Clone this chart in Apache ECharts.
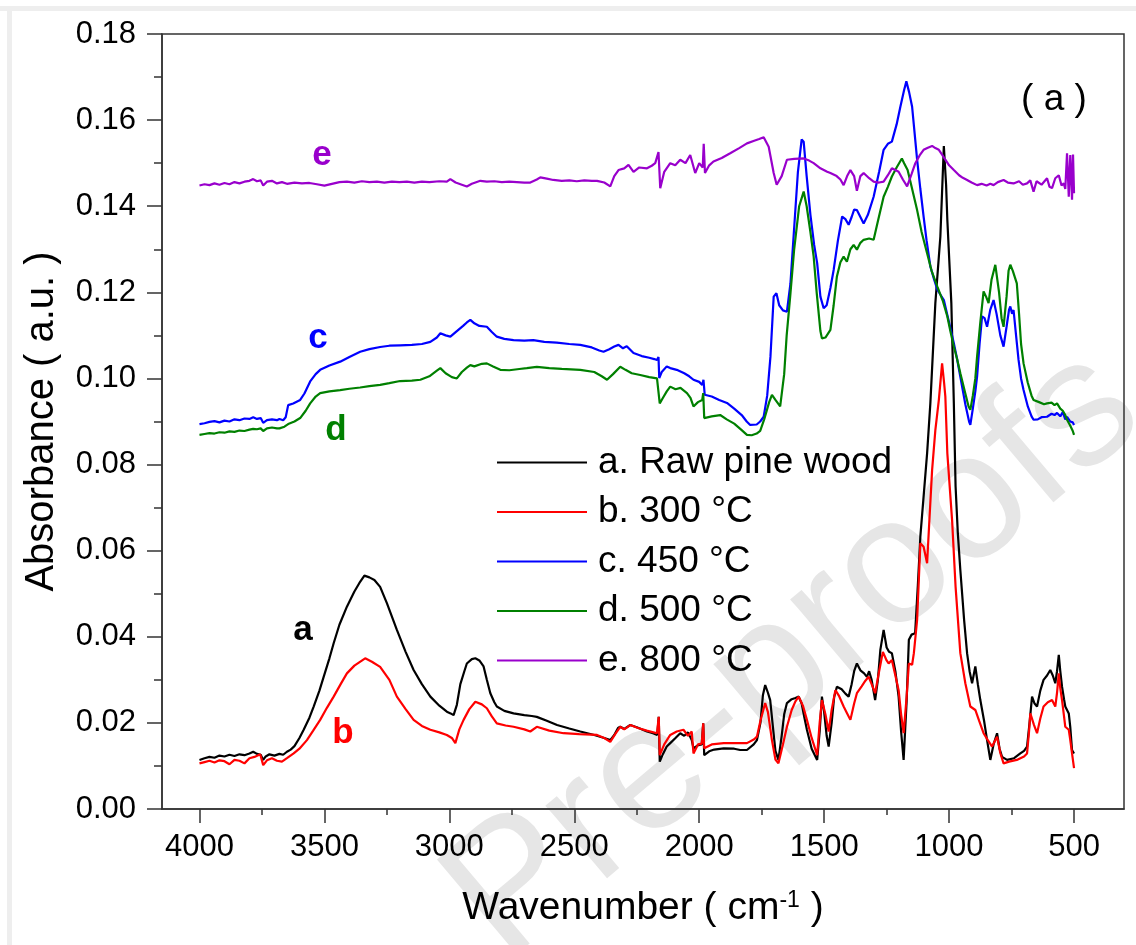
<!DOCTYPE html>
<html>
<head>
<meta charset="utf-8">
<script src="https://cdn.jsdelivr.net/npm/echarts@6/dist/echarts.min.js"></script>
<style>
html,body{margin:0;padding:0;background:#fff;}
#chart{width:1136px;height:945px;}
</style>
</head>
<body>
<div id="chart"></div>
<script>
// ---- data: [wavenumber (cm-1), absorbance (a.u.)] ----
const seriesNames = ['a. Raw pine wood', 'b. 300 °C', 'c. 450 °C', 'd. 500 °C', 'e. 800 °C'];
const seriesColors = ['#000000', '#ff0000', '#0000ff', '#008000', '#9900cc'];
const xMajorTicks = [500, 1000, 1500, 2000, 2500, 3000, 3500, 4000];
const xMinorTicks = [750, 1250, 1750, 2250, 2750, 3250, 3750];

const rawPine = [[4000,0.0114],[3980,0.0118],[3960,0.0121],[3940,0.0119],[3920,0.0124],[3900,0.0122],[3880,0.0126],[3860,0.0123],[3840,0.0127],[3820,0.0125],[3800,0.0129],[3785,0.0133],[3770,0.0128],[3755,0.0126],[3745,0.0114],[3735,0.0122],[3720,0.0127],[3700,0.0124],[3680,0.0128],[3665,0.0126],[3650,0.0133],[3635,0.0138],[3620,0.0146],[3600,0.0165],[3583,0.0184],[3560,0.0212],[3543,0.0238],[3520,0.0275],[3503,0.0307],[3480,0.0350],[3463,0.0385],[3440,0.0428],[3410,0.0470],[3380,0.0505],[3360,0.0525],[3340,0.0542],[3320,0.0538],[3300,0.0532],[3277,0.0516],[3250,0.0478],[3210,0.0416],[3175,0.0365],[3143,0.0323],[3110,0.0290],[3076,0.0261],[3040,0.0240],[3010,0.0226],[2995,0.0222],[2983,0.0218],[2970,0.0242],[2956,0.0290],[2940,0.0320],[2930,0.0338],[2910,0.0348],[2896,0.0350],[2880,0.0345],[2863,0.0331],[2850,0.0300],[2836,0.0269],[2820,0.0248],[2810,0.0238],[2780,0.0228],[2743,0.0222],[2700,0.0218],[2670,0.0216],[2650,0.0214],[2610,0.0205],[2569,0.0195],[2520,0.0187],[2476,0.0180],[2420,0.0172],[2380,0.0165],[2356,0.0160],[2340,0.0172],[2325,0.0188],[2316,0.0191],[2300,0.0186],[2276,0.0195],[2250,0.0190],[2209,0.0180],[2185,0.0176],[2168,0.0172],[2162,0.0214],[2158,0.0110],[2145,0.0128],[2130,0.0145],[2116,0.0153],[2095,0.0165],[2076,0.0176],[2060,0.0170],[2045,0.0178],[2030,0.0160],[2023,0.0141],[2005,0.0148],[1990,0.0150],[1984,0.0199],[1980,0.0125],[1960,0.0134],[1940,0.0138],[1902,0.0141],[1860,0.0140],[1836,0.0137],[1809,0.0137],[1782,0.0150],[1769,0.0160],[1755,0.0200],[1745,0.0265],[1736,0.0288],[1725,0.0270],[1716,0.0253],[1705,0.0190],[1695,0.0135],[1683,0.0114],[1670,0.0170],[1660,0.0220],[1649,0.0246],[1630,0.0255],[1615,0.0258],[1602,0.0261],[1590,0.0245],[1580,0.0215],[1569,0.0184],[1550,0.0140],[1528,0.0114],[1518,0.0180],[1509,0.0261],[1500,0.0225],[1490,0.0170],[1482,0.0145],[1470,0.0200],[1460,0.0260],[1449,0.0284],[1430,0.0278],[1415,0.0268],[1402,0.0261],[1390,0.0290],[1380,0.0320],[1369,0.0338],[1355,0.0322],[1340,0.0315],[1329,0.0307],[1320,0.0320],[1310,0.0300],[1296,0.0253],[1285,0.0300],[1275,0.0370],[1262,0.0416],[1250,0.0375],[1240,0.0365],[1229,0.0362],[1215,0.0320],[1202,0.0261],[1192,0.0180],[1182,0.0114],[1170,0.0250],[1161,0.0393],[1150,0.0405],[1136,0.0408],[1125,0.0520],[1115,0.0633],[1100,0.0740],[1088,0.0826],[1075,0.0942],[1055,0.1175],[1035,0.1329],[1021,0.1540],[1012,0.1450],[1007,0.1368],[991,0.1175],[981,0.0942],[974,0.0749],[965,0.0640],[955,0.0555],[940,0.0440],[928,0.0362],[918,0.0320],[908,0.0292],[895,0.0331],[885,0.0290],[875,0.0253],[860,0.0205],[848,0.0160],[835,0.0114],[822,0.0150],[808,0.0176],[798,0.0140],[788,0.0121],[768,0.0114],[740,0.0118],[715,0.0129],[700,0.0135],[688,0.0145],[678,0.0200],[668,0.0261],[658,0.0245],[648,0.0238],[635,0.0275],[622,0.0300],[608,0.0310],[595,0.0323],[585,0.0310],[575,0.0292],[568,0.0320],[561,0.0358],[555,0.0320],[548,0.0284],[540,0.0255],[535,0.0238],[521,0.0222],[515,0.0190],[508,0.0137],[500,0.0129]];

const char300 = [[4000,0.0106],[3980,0.0109],[3960,0.0112],[3940,0.0108],[3920,0.0113],[3900,0.0111],[3880,0.0104],[3860,0.0114],[3840,0.0112],[3820,0.0106],[3800,0.0118],[3780,0.0121],[3757,0.0127],[3745,0.0102],[3730,0.0113],[3710,0.0118],[3690,0.0112],[3670,0.0110],[3650,0.0118],[3623,0.0129],[3600,0.0140],[3570,0.0160],[3545,0.0182],[3517,0.0207],[3490,0.0235],[3463,0.0261],[3435,0.0290],[3410,0.0315],[3380,0.0333],[3337,0.0350],[3310,0.0342],[3277,0.0330],[3240,0.0300],[3210,0.0261],[3175,0.0232],[3143,0.0207],[3110,0.0193],[3076,0.0184],[3040,0.0178],[3010,0.0172],[2990,0.0165],[2976,0.0153],[2960,0.0185],[2943,0.0207],[2920,0.0232],[2896,0.0249],[2870,0.0243],[2850,0.0234],[2830,0.0215],[2810,0.0199],[2775,0.0194],[2743,0.0191],[2700,0.0185],[2676,0.0180],[2650,0.0191],[2600,0.0182],[2543,0.0176],[2480,0.0174],[2409,0.0172],[2380,0.0165],[2356,0.0156],[2335,0.0175],[2316,0.0191],[2300,0.0185],[2276,0.0195],[2245,0.0188],[2210,0.0182],[2169,0.0176],[2162,0.0214],[2158,0.0125],[2140,0.0150],[2116,0.0172],[2090,0.0180],[2063,0.0184],[2045,0.0170],[2030,0.0180],[2023,0.0129],[2005,0.0150],[1990,0.0152],[1984,0.0199],[1980,0.0141],[1950,0.0150],[1902,0.0153],[1850,0.0153],[1809,0.0153],[1780,0.0162],[1769,0.0168],[1755,0.0205],[1736,0.0246],[1725,0.0225],[1709,0.0160],[1695,0.0115],[1683,0.0106],[1665,0.0150],[1649,0.0191],[1630,0.0230],[1615,0.0250],[1602,0.0261],[1585,0.0240],[1569,0.0207],[1550,0.0165],[1528,0.0125],[1518,0.0200],[1509,0.0253],[1495,0.0220],[1482,0.0180],[1470,0.0230],[1455,0.0276],[1440,0.0262],[1422,0.0238],[1408,0.0222],[1395,0.0207],[1380,0.0245],[1369,0.0269],[1350,0.0285],[1335,0.0298],[1322,0.0307],[1310,0.0290],[1296,0.0269],[1280,0.0320],[1265,0.0365],[1250,0.0345],[1242,0.0338],[1229,0.0346],[1215,0.0310],[1202,0.0276],[1192,0.0220],[1182,0.0176],[1170,0.0260],[1161,0.0338],[1148,0.0335],[1141,0.0362],[1128,0.0439],[1115,0.0617],[1102,0.0609],[1088,0.0571],[1078,0.0680],[1068,0.0787],[1055,0.0880],[1041,0.0950],[1028,0.1035],[1020,0.0990],[1015,0.0958],[1007,0.0826],[988,0.0671],[974,0.0516],[955,0.0362],[935,0.0292],[915,0.0238],[895,0.0230],[880,0.0205],[862,0.0176],[845,0.0160],[828,0.0145],[808,0.0168],[795,0.0130],[782,0.0106],[760,0.0110],[729,0.0114],[700,0.0122],[688,0.0129],[680,0.0180],[675,0.0222],[660,0.0195],[648,0.0176],[635,0.0210],[622,0.0238],[605,0.0248],[588,0.0253],[575,0.0238],[568,0.0270],[561,0.0315],[555,0.0280],[548,0.0253],[540,0.0215],[535,0.0191],[521,0.0184],[515,0.0160],[508,0.0129],[500,0.0095]];

const char450 = [[4000,0.0894],[3980,0.0896],[3960,0.0899],[3940,0.0901],[3920,0.0898],[3900,0.0902],[3880,0.0900],[3860,0.0905],[3840,0.0903],[3820,0.0907],[3800,0.0906],[3785,0.0910],[3770,0.0906],[3755,0.0908],[3745,0.0897],[3730,0.0903],[3710,0.0905],[3690,0.0903],[3680,0.0906],[3665,0.0903],[3655,0.0910],[3645,0.0938],[3625,0.0942],[3597,0.0950],[3580,0.0965],[3557,0.0993],[3535,0.1010],[3517,0.1020],[3480,0.1030],[3437,0.1039],[3400,0.1050],[3357,0.1062],[3320,0.1068],[3277,0.1073],[3240,0.1076],[3197,0.1077],[3150,0.1078],[3110,0.1080],[3076,0.1085],[3050,0.1095],[3036,0.1105],[3015,0.1100],[2996,0.1097],[2970,0.1110],[2945,0.1122],[2930,0.1130],[2916,0.1136],[2900,0.1128],[2880,0.1122],[2850,0.1120],[2830,0.1108],[2810,0.1097],[2780,0.1092],[2743,0.1089],[2700,0.1088],[2664,0.1089],[2620,0.1085],[2570,0.1083],[2520,0.1080],[2476,0.1078],[2430,0.1072],[2400,0.1065],[2383,0.1062],[2360,0.1068],[2340,0.1074],[2323,0.1078],[2305,0.1070],[2290,0.1075],[2263,0.1059],[2230,0.1052],[2200,0.1048],[2180,0.1045],[2169,0.1043],[2163,0.1050],[2160,0.1001],[2150,0.1015],[2130,0.1028],[2116,0.1024],[2090,0.1020],[2060,0.1012],[2040,0.1005],[2023,0.0997],[2000,0.0992],[1988,0.0985],[1983,0.0997],[1978,0.0962],[1950,0.0958],[1920,0.0950],[1889,0.0943],[1860,0.0930],[1830,0.0915],[1810,0.0900],[1796,0.0892],[1789,0.0888],[1770,0.0893],[1756,0.0900],[1742,0.0911],[1728,0.0960],[1715,0.1050],[1702,0.1190],[1691,0.1198],[1680,0.1170],[1665,0.1158],[1649,0.1155],[1635,0.1220],[1620,0.1350],[1605,0.1480],[1590,0.1555],[1582,0.1550],[1570,0.1470],[1555,0.1380],[1540,0.1310],[1528,0.1268],[1515,0.1190],[1502,0.1163],[1490,0.1170],[1475,0.1210],[1462,0.1252],[1445,0.1320],[1428,0.1376],[1415,0.1370],[1402,0.1357],[1390,0.1375],[1380,0.1392],[1369,0.1391],[1355,0.1375],[1342,0.1360],[1325,0.1380],[1302,0.1422],[1280,0.1480],[1262,0.1531],[1245,0.1545],[1229,0.1550],[1210,0.1590],[1195,0.1631],[1180,0.1670],[1171,0.1690],[1160,0.1665],[1148,0.1631],[1138,0.1570],[1128,0.1508],[1115,0.1440],[1102,0.1376],[1090,0.1320],[1075,0.1260],[1060,0.1230],[1047,0.1206],[1035,0.1195],[1021,0.1182],[1000,0.1130],[981,0.1082],[968,0.1045],[955,0.1004],[935,0.0940],[920,0.0900],[915,0.0892],[905,0.0930],[895,0.0970],[888,0.1004],[878,0.1080],[868,0.1144],[858,0.1140],[848,0.1120],[835,0.1160],[822,0.1182],[810,0.1150],[795,0.1100],[782,0.1074],[770,0.1120],[760,0.1160],[755,0.1167],[748,0.1150],[742,0.1159],[732,0.1100],[722,0.1043],[712,0.1000],[702,0.0973],[685,0.0935],[670,0.0912],[662,0.0904],[645,0.0905],[630,0.0910],[608,0.0911],[590,0.0918],[578,0.0915],[568,0.0920],[555,0.0912],[545,0.0922],[535,0.0905],[528,0.0911],[515,0.0900],[505,0.0898],[500,0.0892]];

const char500 = [[4000,0.0869],[3980,0.0871],[3960,0.0873],[3940,0.0872],[3920,0.0875],[3900,0.0874],[3880,0.0877],[3860,0.0876],[3840,0.0879],[3820,0.0878],[3800,0.0881],[3785,0.0883],[3770,0.0882],[3755,0.0884],[3745,0.0878],[3730,0.0884],[3710,0.0886],[3690,0.0884],[3680,0.0884],[3660,0.0888],[3645,0.0894],[3637,0.0896],[3620,0.0900],[3597,0.0908],[3575,0.0925],[3557,0.0942],[3535,0.0958],[3517,0.0966],[3480,0.0970],[3437,0.0973],[3400,0.0976],[3357,0.0979],[3320,0.0982],[3277,0.0985],[3240,0.0989],[3197,0.0994],[3150,0.0995],[3116,0.0997],[3080,0.1005],[3050,0.1018],[3036,0.1024],[3015,0.1012],[2990,0.1003],[2970,0.1000],[2950,0.1015],[2930,0.1025],[2916,0.1031],[2900,0.1028],[2870,0.1034],[2850,0.1035],[2825,0.1028],[2796,0.1020],[2760,0.1019],[2720,0.1022],[2690,0.1024],[2650,0.1027],[2600,0.1024],[2550,0.1022],[2476,0.1020],[2420,0.1015],[2390,0.1005],[2369,0.0997],[2345,0.1010],[2316,0.1027],[2295,0.1020],[2270,0.1012],[2236,0.1008],[2200,0.1003],[2169,0.1000],[2163,0.1000],[2158,0.0942],[2145,0.0955],[2130,0.0970],[2116,0.0981],[2095,0.0975],[2075,0.0978],[2049,0.0966],[2035,0.0955],[2023,0.0935],[2005,0.0945],[1988,0.0950],[1984,0.0966],[1980,0.0908],[1950,0.0912],[1916,0.0915],[1890,0.0905],[1860,0.0895],[1830,0.0880],[1809,0.0869],[1790,0.0868],[1770,0.0872],[1756,0.0878],[1740,0.0905],[1720,0.0945],[1709,0.0962],[1695,0.0950],[1676,0.0935],[1660,0.1010],[1650,0.1100],[1636,0.1190],[1620,0.1300],[1600,0.1400],[1582,0.1434],[1570,0.1400],[1555,0.1340],[1542,0.1283],[1530,0.1200],[1515,0.1110],[1509,0.1093],[1495,0.1095],[1475,0.1113],[1462,0.1170],[1449,0.1237],[1435,0.1270],[1422,0.1283],[1409,0.1271],[1395,0.1300],[1382,0.1310],[1369,0.1299],[1355,0.1315],[1342,0.1322],[1320,0.1325],[1302,0.1322],[1285,0.1365],[1262,0.1422],[1245,0.1445],[1229,0.1469],[1210,0.1490],[1189,0.1511],[1180,0.1500],[1166,0.1484],[1150,0.1445],[1128,0.1391],[1110,0.1340],[1088,0.1291],[1070,0.1250],[1047,0.1213],[1025,0.1180],[1007,0.1144],[995,0.1110],[981,0.1074],[968,0.1045],[955,0.1012],[935,0.0965],[922,0.0935],[915,0.0927],[905,0.0960],[895,0.1000],[888,0.1051],[875,0.1130],[862,0.1202],[852,0.1190],[842,0.1175],[830,0.1230],[815,0.1264],[800,0.1200],[790,0.1140],[782,0.1120],[770,0.1190],[762,0.1250],[755,0.1264],[745,0.1250],[729,0.1221],[720,0.1150],[712,0.1080],[702,0.1035],[685,0.0990],[670,0.0960],[662,0.0950],[640,0.0945],[620,0.0940],[608,0.0942],[590,0.0944],[578,0.0938],[568,0.0942],[555,0.0930],[545,0.0925],[535,0.0915],[528,0.0904],[515,0.0890],[505,0.0878],[500,0.0869]];

const char800 = [[4000,0.1448],[3980,0.1451],[3960,0.1449],[3940,0.1453],[3920,0.1450],[3900,0.1454],[3880,0.1451],[3860,0.1456],[3840,0.1453],[3820,0.1457],[3800,0.1459],[3785,0.1463],[3770,0.1458],[3755,0.1460],[3745,0.1448],[3730,0.1457],[3710,0.1459],[3690,0.1453],[3670,0.1456],[3650,0.1452],[3620,0.1455],[3590,0.1453],[3560,0.1454],[3530,0.1451],[3500,0.1448],[3470,0.1452],[3440,0.1456],[3410,0.1457],[3380,0.1455],[3350,0.1458],[3320,0.1456],[3290,0.1457],[3260,0.1455],[3230,0.1457],[3200,0.1456],[3170,0.1457],[3140,0.1455],[3110,0.1457],[3080,0.1456],[3040,0.1458],[3010,0.1457],[2996,0.1463],[2975,0.1455],[2950,0.1450],[2930,0.1446],[2910,0.1452],[2876,0.1459],[2850,0.1457],[2820,0.1458],[2790,0.1456],[2760,0.1457],[2730,0.1456],[2700,0.1455],[2676,0.1455],[2650,0.1462],[2636,0.1467],[2610,0.1464],[2584,0.1461],[2550,0.1459],[2520,0.1460],[2490,0.1458],[2460,0.1460],[2430,0.1459],[2409,0.1459],[2380,0.1455],[2356,0.1446],[2340,0.1470],[2323,0.1484],[2300,0.1488],[2283,0.1496],[2263,0.1480],[2240,0.1490],[2209,0.1488],[2190,0.1494],[2176,0.1500],[2163,0.1526],[2156,0.1442],[2140,0.1480],[2116,0.1500],[2096,0.1495],[2076,0.1508],[2055,0.1500],[2036,0.1519],[2016,0.1477],[2000,0.1500],[1986,0.1490],[1982,0.1545],[1977,0.1477],[1960,0.1495],[1943,0.1504],[1910,0.1512],[1876,0.1523],[1840,0.1535],[1809,0.1546],[1780,0.1552],[1760,0.1556],[1742,0.1560],[1722,0.1538],[1702,0.1477],[1690,0.1450],[1683,0.1446],[1670,0.1470],[1649,0.1508],[1620,0.1510],[1582,0.1511],[1560,0.1506],[1542,0.1500],[1515,0.1488],[1488,0.1480],[1475,0.1477],[1450,0.1470],[1435,0.1462],[1422,0.1449],[1408,0.1470],[1395,0.1484],[1380,0.1470],[1369,0.1436],[1355,0.1470],[1342,0.1477],[1320,0.1465],[1302,0.1457],[1280,0.1455],[1262,0.1457],[1245,0.1472],[1229,0.1488],[1215,0.1484],[1202,0.1480],[1185,0.1462],[1168,0.1446],[1150,0.1475],[1135,0.1500],[1118,0.1518],[1102,0.1531],[1085,0.1536],[1068,0.1540],[1055,0.1535],[1041,0.1531],[1028,0.1520],[1015,0.1508],[1000,0.1495],[981,0.1484],[960,0.1472],[945,0.1466],[928,0.1461],[910,0.1455],[888,0.1449],[870,0.1452],[850,0.1448],[835,0.1452],[822,0.1449],[805,0.1456],[782,0.1461],[765,0.1455],[742,0.1453],[720,0.1458],[705,0.1450],[688,0.1453],[675,0.1460],[662,0.1434],[650,0.1458],[630,0.1450],[608,0.1465],[598,0.1445],[588,0.1442],[575,0.1465],[561,0.1472],[550,0.1448],[541,0.1453],[535,0.1440],[528,0.1523],[521,0.1422],[515,0.1519],[508,0.1415],[504,0.1520],[500,0.1430]];

const curveLetters = ['a', 'b', 'c', 'd', 'e'];

// ---- chart ----
const FONT = '"Liberation Sans", Arial, sans-serif';
const chart = echarts.init(document.getElementById('chart'), null, {renderer: 'canvas'});
const allData = [rawPine, char300, char450, char500, char800];

const letterPos = [[303, 630], [343, 733], [318, 338], [336, 430], [322, 155]];

const graphics = [
  {type: 'rect', shape: {x: 0, y: 6, width: 1136, height: 5}, style: {fill: '#eeeeee'}, silent: true, z: -10},
  {type: 'rect', shape: {x: 7, y: 6, width: 5, height: 939}, style: {fill: '#eeeeee'}, silent: true, z: -10},
  {type: 'text', x: 795, y: 655, rotation: 0.70, z: -5, silent: true,
   style: {text: 'Pre-proofs', fontFamily: FONT, fontSize: 180, fill: '#e6e6e6', align: 'center', verticalAlign: 'middle'}},
  {type: 'text', x: 1054, y: 100, z: 10,
   style: {text: '( a )', fontFamily: FONT, fontSize: 37, fill: '#000', align: 'center', verticalAlign: 'middle'}}
];
curveLetters.forEach((t, i) => {
  graphics.push({type: 'text', x: letterPos[i][0], y: letterPos[i][1], z: 10,
    style: {text: t, fontFamily: FONT, fontSize: 35, fontWeight: 'bold', fill: seriesColors[i], align: 'center', verticalAlign: 'middle'}});
});

const axisLineStyle = {color: '#333', width: 1.5};

const option = {
  backgroundColor: '#ffffff',
  animation: false,
  grid: {left: 162, right: 12, top: 34, bottom: 136, show: true, borderColor: '#333', borderWidth: 1.5, backgroundColor: 'transparent'},
  legend: {
    data: seriesNames,
    orient: 'vertical',
    left: 497,
    top: 444,
    padding: 0,
    icon: 'rect',
    itemWidth: 90,
    itemHeight: 2,
    itemGap: 12.5,
    textStyle: {fontFamily: FONT, fontSize: 37, lineHeight: 37, color: '#000', padding: [0, 0, 0, 6]}
  },
  xAxis: [{
    type: 'value', inverse: true, min: 300, max: 4150,
    name: 'Wavenumber ( cm{sup|-1} )',
    nameLocation: 'middle', nameGap: 80,
    nameTextStyle: {fontFamily: FONT, fontSize: 39, color: '#000',
      rich: {sup: {fontFamily: FONT, fontSize: 23, color: '#000', verticalAlign: 'top', padding: [0, 0, 15, 0]}}},
    axisLine: {show: true, onZero: false, lineStyle: axisLineStyle},
    axisTick: {show: true, length: 14, lineStyle: axisLineStyle, customValues: xMajorTicks},
    axisLabel: {fontFamily: FONT, fontSize: 31, color: '#000', margin: 23, customValues: xMajorTicks, formatter: v => String(v)},
    splitLine: {show: false}
  }, {
    type: 'value', inverse: true, min: 300, max: 4150, position: 'bottom',
    axisLine: {show: false},
    axisTick: {show: true, length: 6, lineStyle: axisLineStyle, customValues: xMinorTicks},
    axisLabel: {show: false},
    splitLine: {show: false}
  }],
  yAxis: {
    type: 'value', min: 0, max: 0.18, interval: 0.02,
    name: 'Absorbance ( a.u. )',
    nameLocation: 'middle', nameGap: 100, nameRotate: 90,
    nameTextStyle: {fontFamily: FONT, fontSize: 40, color: '#000'},
    axisLine: {show: true, lineStyle: axisLineStyle},
    axisTick: {show: true, length: 15, lineStyle: axisLineStyle},
    minorTick: {show: true, splitNumber: 2, length: 8, lineStyle: axisLineStyle},
    axisLabel: {fontFamily: FONT, fontSize: 31, color: '#000', margin: 26, formatter: v => v.toFixed(2)},
    splitLine: {show: false},
    minorSplitLine: {show: false}
  },
  graphic: graphics,
  series: allData.map((d, i) => ({
    name: seriesNames[i],
    type: 'line',
    xAxisIndex: 0,
    data: d,
    showSymbol: false,
    symbol: 'none',
    color: seriesColors[i],
    lineStyle: {color: seriesColors[i], width: 2.2},
    z: 2 + i
  }))
};
chart.setOption(option);
</script>
</body>
</html>
